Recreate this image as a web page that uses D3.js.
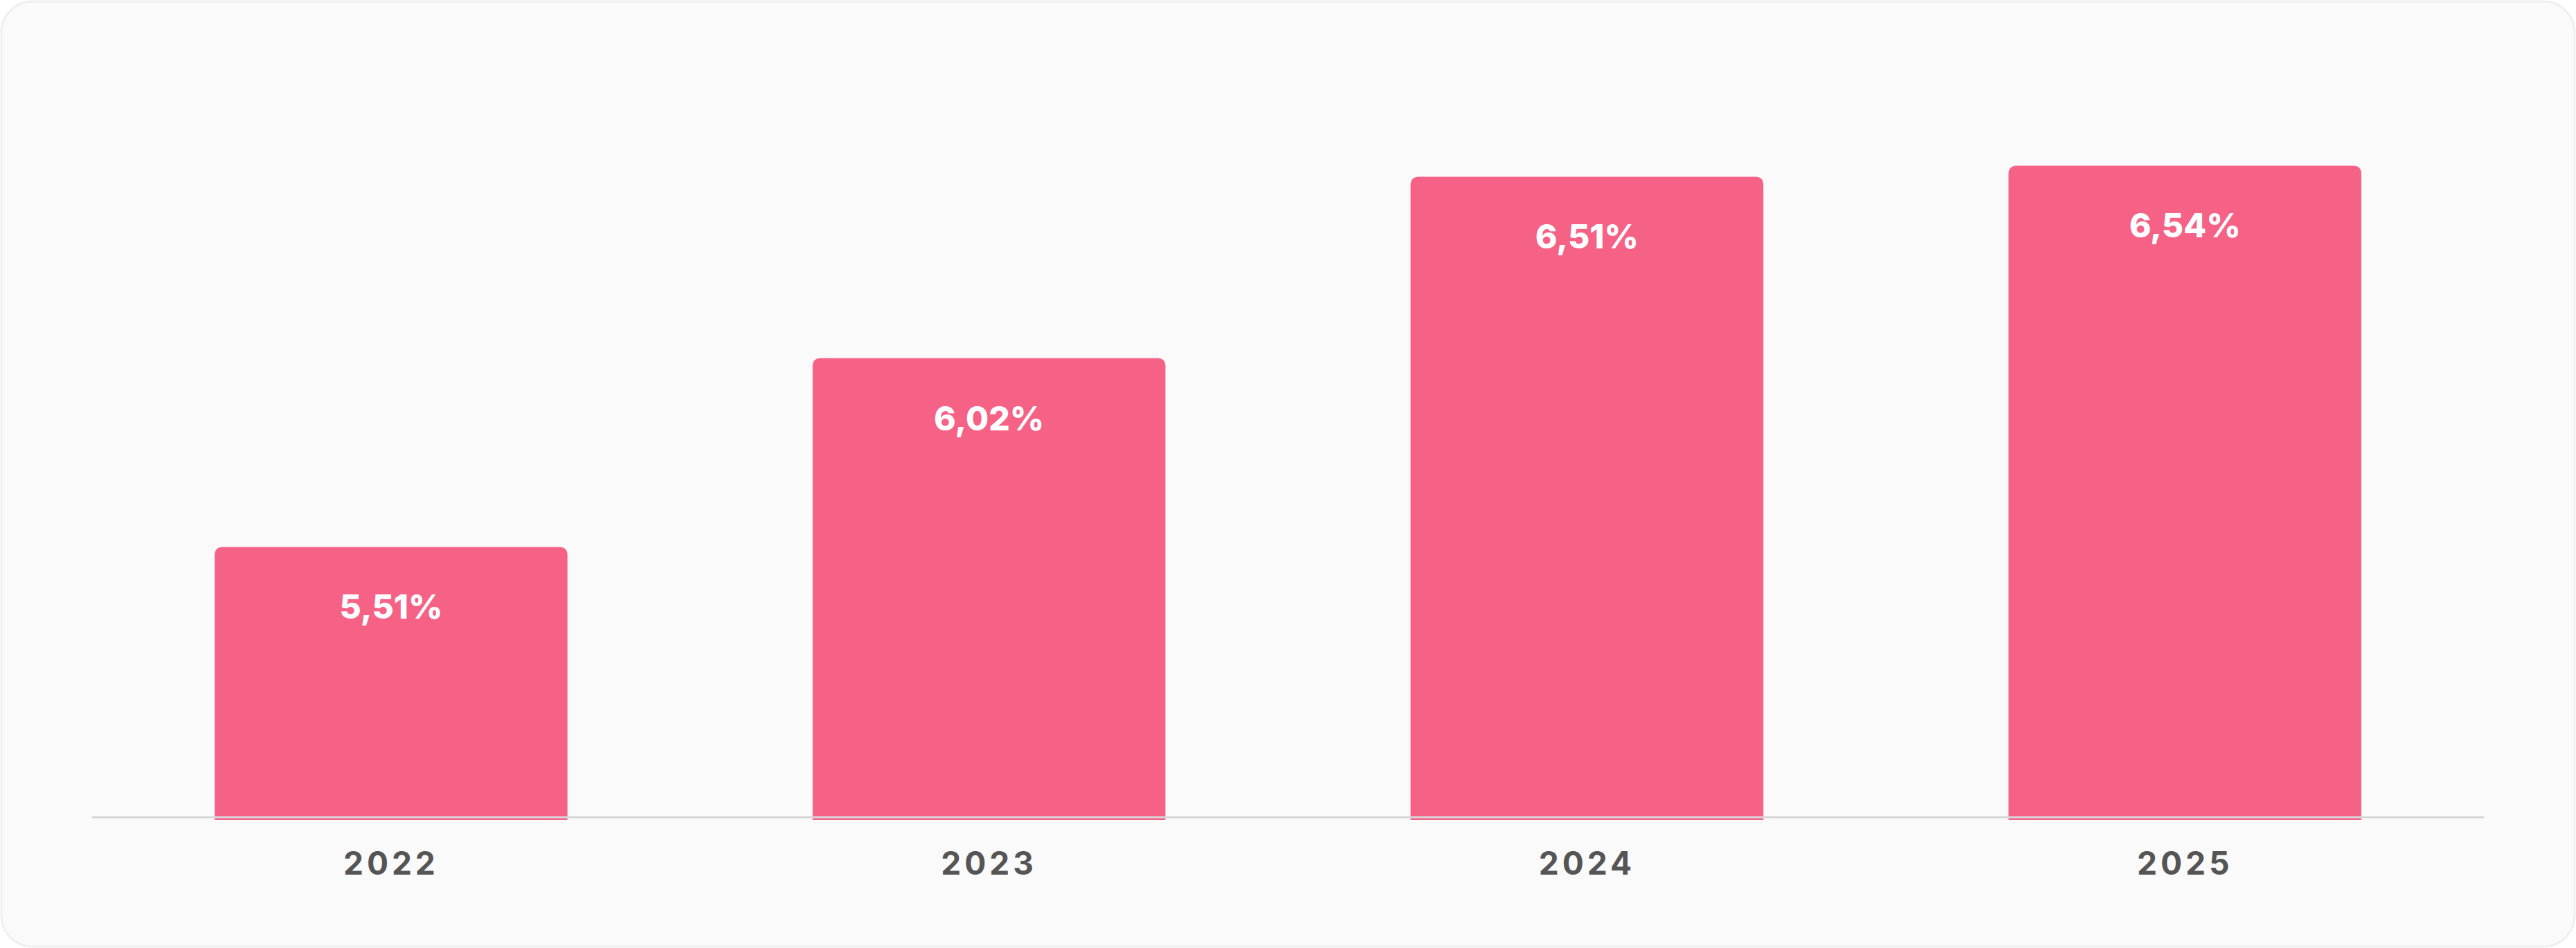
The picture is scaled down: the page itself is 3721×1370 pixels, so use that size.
<!DOCTYPE html>
<html>
<head>
<meta charset="utf-8">
<script src="https://cdn.jsdelivr.net/npm/d3@7"></script>
<style>
  body { margin: 0; background: #ffffff; }
  svg { display: block; }
</style>
</head>
<body>
<svg id="chart"></svg>
<script>
var years = ["2022", "2023", "2024", "2025"];
var rates = [5.51, 6.02, 6.51, 6.54];
var rateLabels = ["5,51%", "6,02%", "6,51%", "6,54%"];

const W = 3721, H = 1370;
const base = 1181;

const svg = d3.select("#chart").attr("width", W).attr("height", H);

// card background
svg.append("rect")
    .attr("x", 2).attr("y", 2)
    .attr("width", W - 4).attr("height", H - 4)
    .attr("rx", 45)
    .attr("fill", "#fafafa")
    .attr("stroke", "#efefef")
    .attr("stroke-width", 3);

const x = d3.scaleBand()
    .domain(years)
    .range([133, 3588])
    .paddingInner(0.41)
    .paddingOuter(0.205);

const y = d3.scaleLinear()
    .domain([4.78, 4.78 + base / 535])
    .range([base, 0]);

// bar with rounded top corners
function barPath(x0, w, top, bottom, r) {
    return `M${x0},${bottom} L${x0},${top + r} Q${x0},${top} ${x0 + r},${top}
            L${x0 + w - r},${top} Q${x0 + w},${top} ${x0 + w},${top + r} L${x0 + w},${bottom} Z`;
}

svg.selectAll(".bar")
    .data(years)
    .join("path")
    .attr("class", "bar")
    .attr("fill", "#f66186")
    .attr("d", (d, i) => barPath(x(d), x.bandwidth(), y(rates[i]), base + 4, 12));

// baseline
svg.append("line")
    .attr("x1", 133).attr("x2", 3588)
    .attr("y1", base).attr("y2", base)
    .attr("stroke", "#d6d6d6")
    .attr("stroke-width", 3);

// value labels
svg.selectAll(".val")
    .data(years)
    .join("text")
    .attr("class", "val")
    .attr("x", d => x(d) + x.bandwidth() / 2)
    .attr("y", (d, i) => y(rates[i]) + 104)
    .attr("text-anchor", "middle")
    .attr("font-family", "Inter, 'Open Sans', sans-serif")
    .attr("font-weight", 800)
    .attr("font-size", 48)
    .attr("fill", "#ffffff")
    .text((d, i) => rateLabels[i]);

// year labels
const xAxis = d3.axisBottom(x).tickSize(0).tickPadding(0);
const ax = svg.append("g")
    .attr("transform", `translate(0, ${base})`)
    .call(xAxis);
ax.select(".domain").remove();
ax.selectAll("text")
    .attr("dy", 0)
    .attr("y", 83)
    .attr("font-family", "Inter, 'Open Sans', sans-serif")
    .attr("font-weight", 700)
    .attr("font-size", 46)
    .attr("letter-spacing", 5)
    .attr("fill", "#555555");
</script>
</body>
</html>
